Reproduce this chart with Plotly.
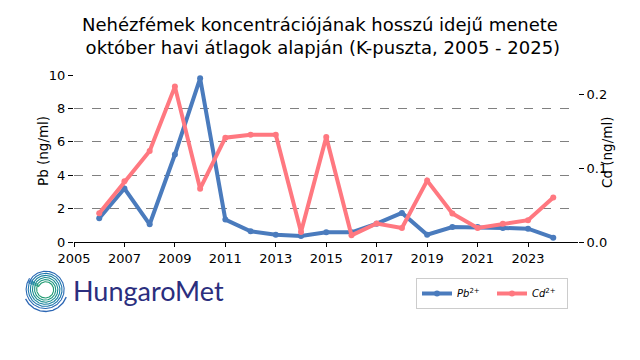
import numpy as np
import plotly.graph_objects as go

years = list(range(2006, 2025))
pb = [1.42, 3.2, 1.06, 5.24, 9.8, 1.34, 0.64, 0.44, 0.36, 0.58, 0.58,
      1.1, 1.74, 0.44, 0.9, 0.9, 0.84, 0.8, 0.26]
cd = [0.039, 0.082, 0.123, 0.21, 0.072, 0.141, 0.145, 0.145, 0.0136, 0.142, 0.009,
      0.025, 0.019, 0.083, 0.0386, 0.019, 0.0245, 0.0295, 0.060]
title_text = ("Nehézfémek koncentrációjának hosszú idejű menete<br>"
              " október havi átlagok alapján (K-puszta, 2005 - 2025)")

W, H = 640, 360
FONT = "DejaVu Sans"
BLUE = "#4a7bbd"
PINK = "#ff7880"

def px_x(v):
    return v / W

def px_y(v):
    return 1 - v / H

fig = go.Figure()
fig.add_trace(go.Scatter(x=years, y=pb, mode="lines+markers", name="<i>Pb</i><sup>2+</sup>",
                         line=dict(color=BLUE, width=4), marker=dict(size=6, color=BLUE),
                         xaxis="x", yaxis="y"))
fig.add_trace(go.Scatter(x=years, y=cd, mode="lines+markers", name="<i>Cd</i><sup>2+</sup>",
                         line=dict(color=PINK, width=4), marker=dict(size=6, color=PINK),
                         xaxis="x", yaxis="y2"))

# logo spiral (decoration)
cols = ["#1f9a70", "#1c9580", "#1a8d90", "#1b84a0", "#1f78ad", "#2a6ab4"]
cx, cy = 45.5, 289.5
for i, c in enumerate(cols):
    th = np.linspace(np.deg2rad(-215), np.deg2rad(160), 200)
    r = 9 + i * 2.1 + (th - th[0]) / (th[-1] - th[0]) * (-1.5)
    xs = cx + r * np.cos(th)
    ys = (H - cy) + r * np.sin(th)
    fig.add_trace(go.Scatter(x=xs, y=ys, mode="lines", line=dict(color=c, width=1.1),
                             showlegend=False, hoverinfo="skip", xaxis="x3", yaxis="y3"))
th = np.linspace(np.deg2rad(-155), np.deg2rad(-20), 80)
fig.add_trace(go.Scatter(x=cx + 22 * np.cos(th), y=(H - cy) + 22 * np.sin(th), mode="lines",
                         line=dict(color="#2c66b4", width=1.3), showlegend=False,
                         hoverinfo="skip", xaxis="x3", yaxis="y3"))

fig.update_layout(
    width=W, height=H,
    margin=dict(l=0, r=0, t=0, b=0, autoexpand=False),
    paper_bgcolor="white", plot_bgcolor="white",
    font=dict(family=FONT, size=13, color="black"),
    showlegend=True,
    title=dict(text=title_text, x=0.5, xanchor="center", y=1 - 31 / H, yanchor="middle",
               font=dict(family=FONT, size=18, color="black")),
    xaxis=dict(domain=[px_x(74), px_x(578)], range=[2005, 2024.98], tick0=2005, dtick=2,
               showgrid=False, zeroline=False, showline=True, linecolor="black", linewidth=1,
               ticks="outside", ticklen=4, tickcolor="black", automargin=False),
    yaxis=dict(domain=[px_y(242), px_y(75)], range=[0, 10], dtick=2,
               showgrid=True, gridcolor="#808080", griddash="dash", gridwidth=1,
               zeroline=False, showline=False, ticks="outside", ticklen=5, tickcolor="black",
               automargin=False),
    yaxis2=dict(overlaying="y", side="right", anchor="x", range=[0, 0.2257], dtick=0.1,
                tickformat=".1f", showgrid=False, zeroline=False, showline=False,
                ticks="outside", ticklen=5, tickcolor="black", automargin=False),
    xaxis3=dict(domain=[px_x(18), px_x(78)], range=[18, 78], visible=False, fixedrange=True),
    yaxis3=dict(domain=[px_y(318), px_y(258)], range=[H - 318, H - 258], visible=False,
                fixedrange=True, anchor="x3"),
    legend=dict(orientation="h", x=px_x(416), y=px_y(278), xanchor="left", yanchor="top",
                bordercolor="#cccccc", borderwidth=1, font=dict(family=FONT, size=10),
                entrywidth=30, itemwidth=30, bgcolor="white"),
)
fig.update_layout(
    annotations=[
        dict(text="Pb (ng/ml)", x=px_x(33), y=px_y(151), xref="paper", yref="paper",
             textangle=-90, showarrow=False, font=dict(family=FONT, size=13.5)),
        dict(text="Cd (ng/ml)", x=px_x(617), y=px_y(153), xref="paper", yref="paper",
             textangle=-90, showarrow=False, font=dict(family=FONT, size=13.5)),
        dict(text="HungaroMet", x=px_x(71), y=px_y(290), xref="paper", yref="paper",
             xanchor="left", yanchor="middle", showarrow=False,
             font=dict(family="Lato", size=27, color="#2b2e7e")),
    ]
)
fig.write_html("out.html", post_script="document.body.style.margin='0';",
               config={"displayModeBar": False})
